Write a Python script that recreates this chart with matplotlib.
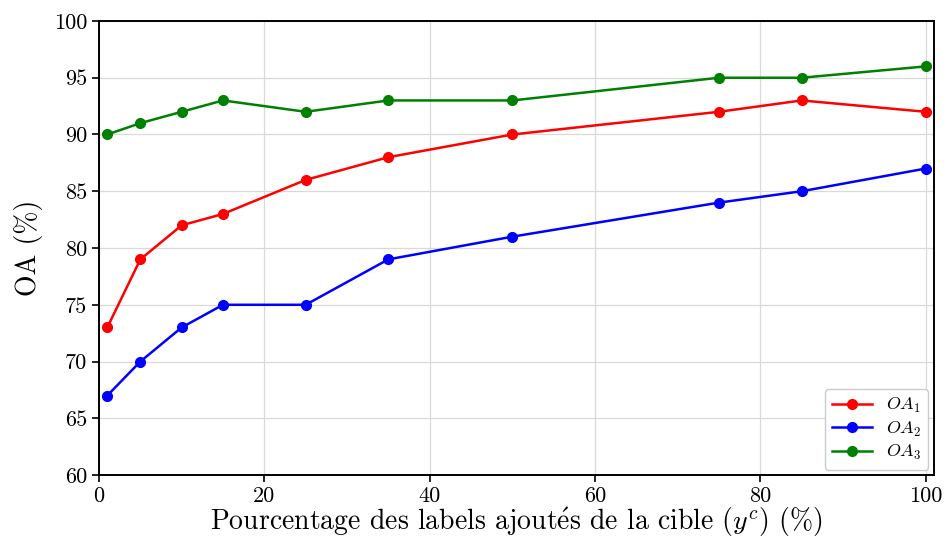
import matplotlib
matplotlib.use('Agg')
import matplotlib.pyplot as plt

plt.rcParams['font.family'] = ['cmr10', 'DejaVu Serif']
plt.rcParams['mathtext.fontset'] = 'cm'
plt.rcParams['axes.unicode_minus'] = False

pct = [1, 5, 10, 15, 25, 35, 50, 75, 85, 100]
oa1 = [73, 79, 82, 83, 86, 88, 90, 92, 93, 92]
oa2 = [67, 70, 73, 75, 75, 79, 81, 84, 85, 87]
oa3 = [90, 91, 92, 93, 92, 93, 93, 95, 95, 96]

fig = plt.figure(figsize=(9.52, 5.38), dpi=100)
ax = fig.add_axes([0.104, 0.117, 0.877, 0.844])

ax.plot(pct, oa1, color='red', marker='o', lw=1.8, ms=7, label='$OA_1$')
ax.plot(pct, oa2, color='blue', marker='o', lw=1.8, ms=7, label='$OA_2$')
ax.plot(pct, oa3, color='green', marker='o', lw=1.8, ms=7, label='$OA_3$')

ax.set_xlim(0, 101)
ax.set_ylim(60, 100)
ax.set_xticks([0, 20, 40, 60, 80, 100])
ax.set_yticks(range(60, 101, 5))
ax.grid(True, color='#d9d9d9', lw=0.9)
ax.set_axisbelow(True)
for s in ax.spines.values():
    s.set_linewidth(1.4)
ax.tick_params(labelsize=16, width=1.2, length=5)

ax.set_xlabel(r'Pourcentage des labels ajout$\acute{\mathrm{e}}$s de la cible ($y^c$) (%)',
              fontsize=20)
ax.xaxis.set_label_coords(0.5, -0.122)
ax.xaxis.label.set_va('baseline')
ax.set_ylabel('OA (%)', fontsize=20, labelpad=8)
ax.legend(loc='lower right', fontsize=13, framealpha=1, labelspacing=0.25,
          borderaxespad=0.3, handlelength=2.2)

fig.savefig('out.png', dpi=100)
